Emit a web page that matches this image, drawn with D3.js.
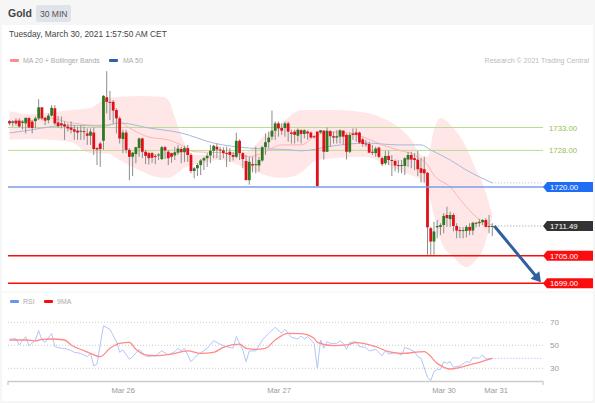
<!DOCTYPE html>
<html><head><meta charset="utf-8">
<script src="https://cdnjs.cloudflare.com/ajax/libs/d3/7.8.5/d3.min.js"></script>
<style>html,body{margin:0;padding:0;background:#f6f6f6}svg{display:block}text{font-family:"Liberation Sans",Arial,sans-serif}</style>
</head><body><div id="c"></div>
<script>
const title="Gold", timeframe="30 MIN", stamp="Tuesday, March 30, 2021 1:57:50 AM CET", credit="Research © 2021 Trading Central";
const dateTicks=[["Mar 26",35.1],["Mar 27",83.2],["Mar 30",134.1],["Mar 31",150.2]];
const rsiTicks=[30,50,70];
const greenLevels=[1733,1728];
const tagLevels=[{v:1720,t:"1720.00",c:"#1f6cf5"},{v:1705,t:"1705.00",c:"#fb0d0d"},{v:1699,t:"1699.00",c:"#fb0d0d"}];
const lastPrice=1711.49, ma50Last=1720.9;
// open, high, low, close of each 30 minute candle
const candles=[
[1734.4,1734.6,1733.5,1733.9],[1734.0,1734.6,1733.2,1734.3],[1734.5,1735.0,1733.4,1733.9],[1734.5,1735.0,1733.0,1733.2],[1734.0,1734.6,1732.6,1734.3],
[1733.9,1735.2,1731.7,1735.1],[1735.1,1735.2,1732.8,1733.0],[1734.3,1734.6,1731.7,1732.9],[1734.4,1735.4,1732.8,1735.0],[1735.0,1739.2,1734.6,1737.4],
[1737.4,1737.5,1734.6,1735.0],[1735.1,1735.4,1733.5,1734.5],[1734.6,1736.1,1733.9,1735.6],[1735.6,1737.9,1735.4,1737.3],[1737.2,1737.9,1733.5,1733.9],
[1734.1,1735.5,1732.9,1733.3],[1733.9,1735.4,1732.8,1733.5],[1733.7,1734.3,1730.3,1733.2],[1733.2,1733.9,1732.1,1732.8],[1733.0,1734.3,1731.7,1732.5],
[1732.6,1733.5,1730.3,1732.1],[1732.3,1733.2,1730.3,1731.9],[1732.1,1733.5,1730.3,1732.3],[1732.2,1733.2,1730.3,1732.0],[1731.7,1732.8,1729.2,1731.2],
[1731.2,1732.8,1729.2,1732.1],[1731.9,1733.0,1727.0,1728.3],[1728.5,1728.7,1724.8,1728.2],[1729.5,1729.9,1724.4,1728.3],[1730.1,1740.1,1728.1,1739.9],
[1739.6,1745.3,1736.1,1738.6],[1738.6,1741.0,1734.6,1738.4],[1738.6,1739.0,1733.9,1736.7],[1736.8,1737.2,1731.7,1735.0],[1735.0,1735.4,1729.5,1730.6],
[1730.5,1732.5,1727.4,1731.9],[1731.9,1732.5,1727.4,1728.1],[1728.1,1728.5,1721.5,1726.6],[1726.6,1727.7,1722.4,1727.5],[1727.2,1728.8,1725.2,1728.7],
[1728.5,1730.8,1726.6,1730.6],[1730.6,1730.8,1726.3,1727.7],[1727.7,1728.1,1725.0,1726.8],[1727.4,1727.7,1724.9,1726.3],[1727.4,1727.7,1725.3,1726.4],
[1726.8,1727.2,1725.0,1726.6],[1726.9,1727.4,1725.9,1727.1],[1726.1,1729.0,1725.9,1728.7],[1728.7,1729.0,1726.1,1728.0],[1727.7,1728.1,1724.8,1726.3],
[1727.4,1727.5,1725.3,1726.6],[1726.9,1728.8,1725.9,1727.6],[1727.5,1729.2,1727.0,1728.4],[1728.3,1728.8,1725.2,1727.6],[1727.6,1729.0,1725.5,1728.5],
[1728.5,1729.2,1725.5,1727.0],[1727.0,1727.4,1723.0,1723.5],[1723.5,1724.4,1721.9,1724.1],[1724.1,1725.2,1722.4,1724.8],[1724.8,1726.1,1722.6,1725.8],
[1725.8,1726.6,1723.7,1726.3],[1726.3,1727.4,1724.4,1726.8],[1726.9,1729.2,1725.2,1727.9],[1727.9,1729.2,1726.3,1729.0],[1728.8,1729.5,1726.3,1728.2],
[1728.2,1728.8,1725.9,1728.1],[1728.0,1728.7,1726.3,1727.4],[1727.4,1728.8,1724.4,1727.2],[1727.7,1728.5,1725.5,1727.0],[1727.0,1727.7,1725.8,1726.6],
[1726.6,1731.9,1726.3,1730.1],[1730.1,1730.4,1725.9,1727.4],[1727.4,1727.7,1724.1,1726.1],[1725.7,1727.0,1721.5,1721.5],[1721.5,1726.6,1720.5,1725.5],
[1725.0,1726.6,1723.2,1724.7],[1724.8,1728.8,1723.0,1725.0],[1724.7,1726.6,1723.4,1725.9],[1725.8,1729.0,1725.5,1728.7],[1728.7,1731.7,1727.0,1729.8],
[1729.8,1732.1,1728.5,1730.8],[1731.0,1736.7,1730.3,1732.3],[1732.3,1734.3,1730.3,1733.9],[1733.9,1734.3,1731.0,1732.8],[1732.9,1733.9,1731.4,1732.3],
[1732.9,1734.3,1731.0,1733.9],[1733.9,1734.3,1729.9,1732.1],[1731.9,1732.5,1729.5,1731.6],[1732.1,1732.5,1729.5,1731.4],[1731.2,1732.8,1729.9,1732.5],
[1732.4,1732.6,1729.5,1731.6],[1731.6,1732.6,1730.6,1732.4],[1732.1,1732.4,1730.3,1731.7],[1731.9,1732.1,1730.6,1730.8],[1731.1,1731.3,1730.6,1731.0],
[1732.1,1732.2,1720.1,1720.2],[1731.9,1732.4,1731.7,1732.4],[1732.3,1732.4,1726.0,1727.7],[1727.7,1733.0,1727.7,1732.3],[1732.2,1732.4,1728.8,1731.1],
[1731.1,1732.1,1729.5,1730.8],[1730.8,1732.4,1729.5,1731.1],[1731.0,1732.6,1729.5,1732.4],[1732.3,1732.4,1729.2,1731.0],[1731.4,1731.7,1726.0,1727.7],
[1727.7,1731.9,1727.4,1731.4],[1731.7,1732.8,1730.3,1731.4],[1731.9,1732.8,1729.9,1731.4],[1731.9,1732.1,1729.4,1729.7],[1730.4,1730.8,1728.8,1729.4],
[1729.5,1730.3,1728.8,1729.3],[1729.4,1729.9,1727.4,1727.5],[1727.7,1729.2,1727.0,1727.5],[1727.4,1728.8,1726.6,1728.4],[1728.6,1728.8,1726.3,1726.6],
[1726.3,1726.6,1724.6,1725.0],[1725.2,1727.9,1724.8,1726.8],[1726.8,1727.9,1724.8,1725.9],[1725.9,1727.0,1722.4,1725.7],[1725.7,1726.0,1723.4,1724.7],
[1724.8,1725.9,1723.1,1724.7],[1724.7,1725.9,1723.0,1724.8],[1724.6,1726.5,1722.6,1726.3],[1726.0,1727.7,1724.4,1727.0],[1727.0,1727.7,1724.1,1726.0],
[1726.3,1727.4,1723.7,1725.9],[1726.0,1727.9,1722.4,1723.9],[1724.1,1726.3,1721.0,1723.1],[1723.9,1726.6,1721.0,1723.0],[1723.1,1723.3,1705.2,1711.2],
[1711.0,1711.3,1705.0,1708.1],[1708.1,1712.4,1705.2,1710.3],[1711.2,1712.8,1708.8,1711.5],[1711.3,1712.1,1709.5,1711.7],[1711.7,1714.3,1709.9,1713.7],
[1713.9,1715.7,1711.3,1713.2],[1713.0,1714.6,1711.3,1713.9],[1713.9,1714.3,1710.3,1711.5],[1711.5,1712.1,1708.8,1710.5],[1710.6,1711.3,1708.8,1710.4],
[1710.4,1711.3,1708.8,1710.6],[1710.4,1711.7,1709.0,1711.3],[1711.3,1712.1,1709.5,1710.5],[1710.5,1712.4,1709.5,1712.2],[1712.2,1712.4,1711.2,1712.1],
[1712.1,1713.0,1711.3,1712.4],[1712.3,1713.0,1711.7,1712.8],[1712.8,1713.2,1711.2,1711.3],[1711.5,1713.9,1709.9,1711.3],[1711.4,1712.1,1709.3,1711.49]];
// Bollinger bands, read at these candle numbers
const bandIdx=[0,6,12,19,25,30,34,40,47,49,51,54,57,65,73,79,84,88,90,95,100,110,115,120,124,127,129,131,133,137,141,144,146,149];
const bandUpper=[1736.6,1735.9,1736.2,1736.8,1737.3,1739.4,1739.7,1739.9,1739.7,1739.0,1735.3,1729.6,1727.0,1727.0,1727.7,1731.4,1734.0,1736.2,1736.8,1736.8,1736.8,1736.2,1735.1,1733.1,1730.3,1727.0,1726.6,1732.5,1735.1,1732.9,1728.7,1723.7,1720.9,1713.9];
const bandLower=[1730.3,1730.5,1730.3,1729.8,1727.4,1727.4,1725.9,1723.7,1722.0,1722.0,1722.6,1724.2,1724.8,1725.9,1724.2,1722.6,1722.0,1722.4,1723.2,1725.9,1726.3,1726.6,1725.4,1723.7,1722.6,1721.5,1719.4,1713.9,1708.4,1704.7,1702.5,1704.1,1706.2,1713.5];
const ma20Idx=[0,7,12,18,26,29,34,38,43,49,53,57,69,74,78,84,90,95,100,105,110,115,120,126,129,131,136,140,144,149];
const ma20=[1734.2,1734.6,1735.1,1734.2,1733.5,1733.5,1734.0,1732.5,1730.9,1730.3,1729.2,1727.7,1727.4,1726.6,1727.4,1729.2,1729.2,1731.4,1732.0,1731.8,1730.7,1729.2,1728.1,1726.6,1724.8,1722.6,1720.0,1716.5,1713.5,1711.7];
const ma50Idx=[0,7,12,19,29,34,43,53,63,74,87,90,100,110,120,127,130,136,141,149];
const ma50=[1731.8,1732.5,1733.1,1733.5,1733.3,1734.0,1732.9,1731.8,1729.6,1728.5,1728.1,1727.9,1729.0,1729.6,1729.2,1729.2,1728.1,1725.9,1723.7,1720.9];
const rsiIdx=[0,2,3,5,6,8,9,10,11,13,14,16,17,19,20,22,24,25,26,27,29,31,33,34,35,37,38,40,42,43,44,45,47,49,51,52,53,54,56,58,61,63,65,67,69,70,72,73,74,76,78,80,82,84,85,87,89,90,91,92,93,94,95,96,97,98,99,101,102,103,104,105,107,108,110,111,113,115,116,117,119,121,122,124,125,126,127,129,130,131,132,133,134,135,136,137,139,141,142,143,145,146,147,149];
const rsi=[55.2,55.8,50.3,57.5,49.4,54.6,62.7,54.6,52.6,60.4,48.8,47.4,47.4,45.6,43.9,43.0,40.1,43.0,32.0,33.8,66.8,63.9,53.2,43.9,45.9,37.8,40.1,46.5,40.7,40.1,40.7,40.7,45.3,41.6,44.5,47.4,45.3,47.4,35.8,41.6,47.4,54.0,50.9,48.8,47.4,57.5,45.9,35.8,45.1,45.1,54.6,60.4,65.6,60.4,63.9,56.9,55.5,58.1,55.5,57.5,54.6,51.7,30.0,54.6,47.4,53.2,51.7,51.7,53.8,51.7,46.5,52.3,53.2,48.8,48.2,45.1,46.5,41.0,45.3,42.4,43.6,41.6,48.2,45.9,44.5,40.1,38.7,22.2,19.3,27.1,29.1,29.1,35.8,34.3,35.8,30.9,32.0,35.8,34.9,39.3,38.7,41.6,38.1,38.7];
const rsiMaIdx=[0,5,8,10,13,17,19,23,25,28,31,34,37,39,42,45,50,55,59,63,66,71,73,76,79,82,86,90,94,95,100,104,107,113,117,121,128,132,136,143,149];
const rsiMa=[54.6,54.6,53.8,55.2,55.5,54.6,50.3,45.3,43.0,40.1,47.4,51.7,52.6,46.5,41.6,41.0,42.4,45.1,43.0,43.9,48.2,51.1,47.4,46.5,47.4,54.6,60.4,60.1,56.1,52.6,49.7,50.3,52.3,48.8,44.5,43.0,44.5,34.3,29.4,33.8,38.7];

const W=595,H=403;
const svg=d3.select("#c").append("svg").attr("width",W).attr("height",H);
const x=d3.scaleLinear().domain([0,149]).range([9.5,492.3]);
const y=d3.scaleLinear().domain([1699,1733]).range([283.2,127.5]);
const ry=d3.scaleLinear().domain([30,70]).range([368.3,322.3]);
const L=8,R=543;
const T=(px,py,s,o={})=>svg.append("text").attr("x",px).attr("y",py).text(s).attr("font-size",o.size||8).attr("fill",o.fill||"#aaa").attr("font-weight",o.weight||400).attr("text-anchor",o.anchor||"start");
svg.append("rect").attr("x",2).attr("y",25).attr("width",591).attr("height",376).attr("fill","#fff");
svg.append("line").attr("x1",2).attr("x2",593).attr("y1",292).attr("y2",292).attr("stroke","#f2f2f2");
T(8,17,title,{size:10.5,weight:700,fill:"#444"});
svg.append("rect").attr("x",36).attr("y",5).attr("width",35).attr("height",17).attr("rx",2).attr("fill","#dfe3ea");
T(40,17,timeframe,{size:8.5,fill:"#555"});
T(9,37,stamp,{size:8.4,fill:"#444"});
const sw=(px,py,c)=>svg.append("rect").attr("x",px).attr("y",py).attr("width",9).attr("height",3).attr("rx",1).attr("fill",c);
sw(10,59,"#ff8a8a");T(23,63,"MA 20 + Bollinger Bands",{size:7});
sw(109,59,"#2f5fa8");T(123,63,"MA 50",{size:7});
T(589,63,credit,{size:7,anchor:"end",fill:"#bbb"});
sw(10,300,"#6f93ef");T(23,304,"RSI",{size:7});
sw(44,300,"#fb0d0d");T(57,304,"9MA",{size:7});

svg.append("path").attr("fill","#ffe7e7").attr("d",d3.area().x((d,i)=>x(bandIdx[i])).y0((d,i)=>y(bandLower[i])).y1(d=>y(d)).curve(d3.curveMonotoneX)(bandUpper));
greenLevels.forEach(v=>{svg.append("line").attr("x1",L).attr("x2",R).attr("y1",y(v)).attr("y2",y(v)).attr("stroke","#b9dc95").attr("stroke-width",1);
 T(549,y(v)+3,v.toFixed(2),{size:7.8,fill:"#8fc24f"});});
const ln=(ix,c,w,sc,curve)=>d3.line().x((d,i)=>x(ix[i])).y(d=>sc(d)).curve(curve||d3.curveMonotoneX);
svg.append("path").attr("fill","none").attr("stroke","#ffb3b3").attr("stroke-width",1).attr("d",ln(ma20Idx,0,0,y)(ma20));
svg.append("path").attr("fill","none").attr("stroke","#a9b9d9").attr("stroke-width",1).attr("d",ln(ma50Idx,0,0,y)(ma50));
const dotted=(x1,x2,yy,c)=>svg.append("line").attr("x1",x1).attr("x2",x2).attr("y1",yy).attr("y2",yy).attr("stroke",c).attr("stroke-dasharray","1 2");
dotted(x(149),R,y(ma50Last),"#b5b5b5");
dotted(x(149),R,y(lastPrice),"#999");
const g=svg.append("g");
candles.forEach((c,i)=>{
 const [o,h,l,cl]=c;
 g.append("line").attr("x1",x(i)).attr("x2",x(i)).attr("y1",y(h)).attr("y2",y(l)).attr("stroke","#8c8c8c").attr("stroke-width",1);
 const t=y(Math.max(o,cl)),b=y(Math.min(o,cl));
 g.append("rect").attr("x",x(i)-1.4).attr("width",2.8).attr("y",t).attr("height",Math.max(1,b-t)).attr("fill",cl>=o?"#2c7a1f":"#e0101a");
});
tagLevels.forEach(d=>{
 const yy=y(d.v);
 svg.append("line").attr("x1",L).attr("x2",R+2).attr("y1",yy).attr("y2",yy).attr("stroke",d.v==1720?"#7d9cea":d.c).attr("stroke-width",1.5);
});
const tag=(v,t,c)=>{const yy=y(v);
 svg.append("path").attr("fill",c).attr("d",d3.line()([[543,yy],[547,yy-5],[593,yy-5],[593,yy+5],[547,yy+5]])+"Z");
 T(550,yy+3,t,{size:7.8,fill:"#fff"});};
tagLevels.forEach(d=>tag(d.v,d.t,d.c));
tag(lastPrice,lastPrice.toFixed(2),"#333");
// forecast arrow
const a0=[x(149)+2,y(lastPrice)],a1=[x(164),y(1699)-1];
const ang=Math.atan2(a1[1]-a0[1],a1[0]-a0[0]);
svg.append("line").attr("x1",a0[0]).attr("y1",a0[1]).attr("x2",a1[0]-6*Math.cos(ang)).attr("y2",a1[1]-6*Math.sin(ang)).attr("stroke","#2f5f9f").attr("stroke-width",3);
const hp=(r,da)=>[a1[0]-r*Math.cos(ang+da),a1[1]-r*Math.sin(ang+da)];
svg.append("path").attr("fill","#2f5f9f").attr("d",d3.line()([a1,hp(11,0.55),hp(11,-0.55)])+"Z");

rsiTicks.forEach(v=>{dotted(L,R,ry(v),"#ccc");T(550,ry(v)+3,v,{size:8,fill:"#999"});});
svg.append("path").attr("fill","none").attr("stroke","#b3c6f5").attr("stroke-width",1).attr("d",ln(rsiIdx,0,0,ry,d3.curveLinear)(rsi));
svg.append("path").attr("fill","none").attr("stroke","#ff8a8a").attr("stroke-width",1.3).attr("d",ln(rsiMaIdx,0,0,ry)(rsiMa));
dotted(x(149),R,ry(rsi[rsi.length-1]),"#9db5f2");
svg.append("path").attr("fill","none").attr("stroke","#ccc").attr("stroke-width",1.3).attr("d",`M${L},385V381.5H${R}V385`);
dateTicks.forEach(d=>{T(x(d[1]),393,d[0],{size:7.6,fill:"#999",anchor:"middle"});});
</script></body></html>
